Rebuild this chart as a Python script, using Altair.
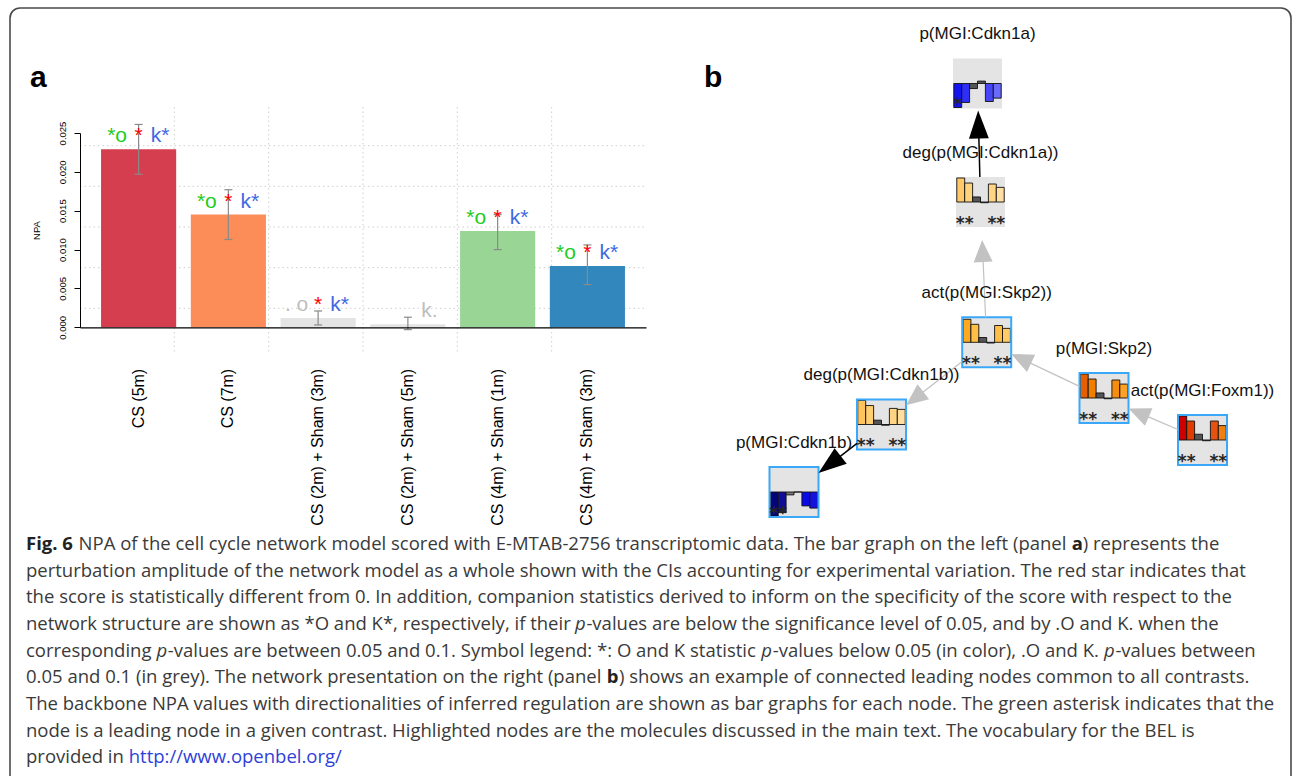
import altair as alt
import numpy as np
import pandas as pd

W, H = 1292, 776
SANS = "Liberation Sans"
CAPTION_FONT = "Open Sans"

# ---------------- panel a: network perturbation amplitude per contrast ----------------
contrasts = [
    "CS (5m)",
    "CS (7m)",
    "CS (2m) + Sham (3m)",
    "CS (2m) + Sham (5m)",
    "CS (4m) + Sham (1m)",
    "CS (4m) + Sham (3m)",
]
npa_values = [0.0229, 0.0145, 0.0012, 0.0004, 0.0124, 0.0079]
ci_lower = [0.0197, 0.0113, 0.0003, -0.0003, 0.0100, 0.0055]
ci_upper = [0.0261, 0.0177, 0.0021, 0.0013, 0.0145, 0.0106]
bar_fill = ["#D53E4F", "#FC8D59", "#E4E4E4", "#E4E4E4", "#99D594", "#3288BD"]
# "*" significant (p < 0.05), "." borderline (0.05 < p < 0.1), "" not shown
o_flags = ["*", "*", ".", "", "*", "*"]
score_flags = ["*", "*", "*", "", "*", "*"]
k_flags = ["*", "*", "*", ".", "*", "*"]

GREY_TXT = "#BEBEBE"


def o_label(f):
    return "*o" if f == "*" else (". o" if f == "." else "")


def k_label(f):
    return ("k" + f) if f else ""


bars = pd.DataFrame({
    "contrast": contrasts,
    "npa": npa_values,
    "lo": ci_lower,
    "hi": ci_upper,
    "fill": bar_fill,
    "o_text": [o_label(f) for f in o_flags],
    "o_col": ["#1ECC1E" if f == "*" else GREY_TXT for f in o_flags],
    "s_text": score_flags,
    "k_text": [k_label(f) for f in k_flags],
    "k_col": ["#4169E1" if f == "*" else GREY_TXT for f in k_flags],
})

x_band = alt.Scale(type="band", domain=contrasts, range=[80, 646],
                   paddingInner=0.163, paddingOuter=0.2345)
y_npa = alt.Scale(domain=[0, 0.025], range=[327.3, 133], nice=False, zero=False)

x_axis = alt.Axis(
    orient="bottom", offset=-448.7, ticks=False, tickSize=0, grid=False, zindex=1,
    labelAngle=270, labelAlign="right", labelBaseline="middle", labelPadding=41,
    labelFont=SANS, labelFontSize=16, labelColor="black", labelLimit=400,
    domainColor="black", domainWidth=1.2, title=None,
)
y_axis = alt.Axis(
    orient="left", offset=-80, values=[0, 0.005, 0.01, 0.015, 0.02, 0.025], format=".3f",
    grid=False, tickSize=6, tickColor="black", domainColor="black", zindex=1,
    labelAngle=270, labelAlign="center", labelBaseline="alphabetic", labelPadding=9,
    labelFont=SANS, labelFontSize=9.5, labelColor="black", labelOverlap=False, labelFlush=False,
    title="NPA", titleFont=SANS, titleFontSize=9.5, titleFontWeight="normal", titleColor="black",
    titleAngle=270, titleAlign="center", titleBaseline="alphabetic", titleX=-41, titleY=230,
)

bar_base = alt.Chart(bars)
xs = alt.X("contrast:N", sort=contrasts, scale=x_band, axis=None)


def ys(field):
    return alt.Y(field, scale=y_npa, axis=None)


bar_layer = bar_base.mark_bar(opacity=1).encode(
    x=alt.X("contrast:N", sort=contrasts, scale=x_band, axis=x_axis),
    y=alt.Y("npa:Q", scale=y_npa, axis=y_axis),
    y2=alt.datum(0),
    color=alt.Color("fill:N", scale=None),
)
err_line = bar_base.mark_rule(color="#8A8A8A", strokeWidth=1.2).encode(
    x=xs, y=ys("lo:Q"), y2="hi:Q"
)
err_low = bar_base.mark_tick(color="#8A8A8A", size=8, thickness=1.2, opacity=1).encode(
    x=xs, y=ys("lo:Q")
)
err_high = bar_base.mark_tick(color="#8A8A8A", size=8, thickness=1.2, opacity=1).encode(
    x=xs, y=ys("hi:Q")
)
flag_style = dict(font=SANS, fontSize=21, baseline="alphabetic", align="center", dy=-7)
o_text = bar_base.mark_text(dx=-21.5, **flag_style).encode(
    x=xs, y=ys("npa:Q"), text="o_text:N", color=alt.Color("o_col:N", scale=None),
)
s_text = bar_base.mark_text(dx=0, color="#FF0000", **flag_style).encode(
    x=xs, y=ys("npa:Q"), text="s_text:N",
)
k_text = bar_base.mark_text(dx=21.5, **flag_style).encode(
    x=xs, y=ys("npa:Q"), text="k_text:N", color=alt.Color("k_col:N", scale=None),
)
bar_layers = [bar_layer, err_line, err_low, err_high, o_text, s_text, k_text]

# ---------------- page-level drawing frame (pixel coordinates) ----------------
px = alt.Scale(domain=[0, W], range=[0, W], nice=False, zero=False)
py = alt.Scale(domain=[0, H], range=[0, H], nice=False, zero=False)


def X(f):
    return alt.X(f, scale=px, axis=None)


def Y(f):
    return alt.Y(f, scale=py, axis=None)


frame = pd.DataFrame({"x": [10], "x2": [1291], "y": [8], "y2": [800]})
frame_layer = alt.Chart(frame).mark_rect(
    fill="transparent", fillOpacity=0, stroke="#4A4A4A", strokeWidth=1.6, cornerRadius=10
).encode(x=X("x:Q"), x2="x2:Q", y=Y("y:Q"), y2="y2:Q")

# dotted background grid of panel a (6 x 6 cells)
GRID_X0, GRID_X1, GRID_Y0, GRID_Y1 = 80, 646, 105, 349
gx = np.linspace(GRID_X0, GRID_X1, 7)[1:-1]
gy = np.linspace(GRID_Y0, GRID_Y1, 7)[1:-1]
vgrid = pd.DataFrame({"x": gx, "y": GRID_Y0 + 2, "y2": GRID_Y1 + 3})
hgrid = pd.DataFrame({"y": gy, "x": GRID_X0, "x2": GRID_X1})
grid_style = dict(color="#CFCFCF", strokeWidth=1, strokeDash=[1.5, 3])
vgrid_layer = alt.Chart(vgrid).mark_rule(**grid_style).encode(x=X("x:Q"), y=Y("y:Q"), y2="y2:Q")
hgrid_layer = alt.Chart(hgrid).mark_rule(**grid_style).encode(y=Y("y:Q"), x=X("x:Q"), x2="x2:Q")

panel_letters = pd.DataFrame({"x": [30, 704], "y": [87, 87], "t": ["a", "b"]})
letters_layer = alt.Chart(panel_letters).mark_text(
    font=SANS, fontSize=30, fontWeight="bold", align="left", baseline="alphabetic", color="black"
).encode(x=X("x:Q"), y=Y("y:Q"), text="t:N")

back_layers = [frame_layer, vgrid_layer, hgrid_layer, letters_layer]

# ---------------- panel b: network of leading nodes ----------------
node_names = [
    "p(MGI:Cdkn1a)",
    "deg(p(MGI:Cdkn1a))",
    "act(p(MGI:Skp2))",
    "p(MGI:Skp2)",
    "act(p(MGI:Foxm1))",
    "deg(p(MGI:Cdkn1b))",
    "p(MGI:Cdkn1b)",
]
node_x = [977.5, 980.5, 986.7, 1104.0, 1202.5, 881.5, 794.0]
node_y = [83.5, 202.0, 342.3, 398.0, 440.0, 424.5, 492.0]
node_highlight = [False, False, True, True, True, True, True]

# backbone NPA per contrast at each node (relative, signed: up = increased)
node_npa = {
    "p(MGI:Cdkn1a)": [-1.00, -0.79, -0.21, 0.10, -0.75, -0.61],
    "deg(p(MGI:Cdkn1a))": [1.00, 0.79, 0.21, -0.03, 0.75, 0.61],
    "act(p(MGI:Skp2))": [0.96, 0.75, 0.20, -0.03, 0.70, 0.58],
    "p(MGI:Skp2)": [1.00, 0.79, 0.21, -0.03, 0.75, 0.58],
    "act(p(MGI:Foxm1))": [1.00, 0.79, 0.24, -0.03, 0.79, 0.60],
    "deg(p(MGI:Cdkn1b))": [1.00, 0.79, 0.18, -0.03, 0.67, 0.63],
    "p(MGI:Cdkn1b)": [-1.00, -0.86, -0.12, 0.00, -0.58, -0.67],
}
node_bar_colors = {
    "p(MGI:Cdkn1a)": ["#1414F0", "#2E2EF5", "#555555", "#555555", "#4646F5", "#6A6AFA"],
    "deg(p(MGI:Cdkn1a))": ["#FFC96A", "#FFD27E", "#555555", "#555555", "#FFD484", "#FFDFA3"],
    "act(p(MGI:Skp2))": ["#FFAA1E", "#FFBE46", "#555555", "#555555", "#FFBE48", "#FFCB66"],
    "p(MGI:Skp2)": ["#E35F00", "#F07F00", "#555555", "#555555", "#F58E10", "#FFA126"],
    "act(p(MGI:Foxm1))": ["#CC0000", "#E03C00", "#555555", "#555555", "#E65212", "#F07E10"],
    "deg(p(MGI:Cdkn1b))": ["#FFC45E", "#FFCF72", "#555555", "#555555", "#FFD482", "#FFDE9E"],
    "p(MGI:Cdkn1b)": ["#05057A", "#0E0E96", "#777777", "#777777", "#0A0AE6", "#1414DC"],
}
# leading-node marks: (bar slot, symbol)
node_stars = {
    "p(MGI:Cdkn1a)": [(0, "*")],
    "deg(p(MGI:Cdkn1a))": [(0.5, "**"), (4.5, "**")],
    "act(p(MGI:Skp2))": [(0.5, "**"), (4.5, "**")],
    "p(MGI:Skp2)": [(0.5, "**"), (4.5, "**")],
    "act(p(MGI:Foxm1))": [(0.5, "**"), (4.5, "**")],
    "deg(p(MGI:Cdkn1b))": [(0.5, "**"), (4.5, "**")],
    "p(MGI:Cdkn1b)": [(0.5, "**")],
}
edge_source = ["deg(p(MGI:Cdkn1a))", "act(p(MGI:Skp2))", "p(MGI:Skp2)",
               "act(p(MGI:Foxm1))", "act(p(MGI:Skp2))", "deg(p(MGI:Cdkn1b))"]
edge_target = ["p(MGI:Cdkn1a)", "deg(p(MGI:Cdkn1a))", "act(p(MGI:Skp2))",
               "p(MGI:Skp2)", "deg(p(MGI:Cdkn1b))", "p(MGI:Cdkn1b)"]
edge_kind = ["black", "grey", "grey", "grey", "grey", "black"]
edge_gap = [2, 13, 0, 0, 0, 0]

HALF_W, HALF_H = 24.5, 25.0
BAR_W = 7.9
BAR_PX = 24.0
LABEL_RISE = 49.5
STAR_DROP = 17.0

nodes = pd.DataFrame({"name": node_names, "cx": node_x, "cy": node_y, "hl": node_highlight})
nodes["x"] = nodes.cx - HALF_W
nodes["x2"] = nodes.cx + HALF_W
nodes["y"] = nodes.cy - HALF_H
nodes["y2"] = nodes.cy + HALF_H
nodes["ly"] = nodes.cy - LABEL_RISE

mini_rows, star_rows = [], []
for name, cx, cy in zip(node_names, node_x, node_y):
    left = cx - HALF_W + 0.8
    for i, (v, c) in enumerate(zip(node_npa[name], node_bar_colors[name])):
        mini_rows.append({"x": left + i * BAR_W, "x2": left + (i + 1) * BAR_W,
                          "y": cy - v * BAR_PX, "y2": cy, "c": c})
    for slot, sym in node_stars[name]:
        star_rows.append({"x": left + (slot + 0.5) * BAR_W, "y": cy + STAR_DROP, "t": sym})
mini = pd.DataFrame(mini_rows)
stars = pd.DataFrame(star_rows)

pos = {n: (x, y) for n, x, y in zip(node_names, node_x, node_y)}
ARROW = {"black": (28.0, 1.5, "#000000"), "grey": (22.0, 1.2, "#C2C2C2")}
edge_rows = []
for s, t, kind, gap in zip(edge_source, edge_target, edge_kind, edge_gap):
    (sx, sy), (tx, ty) = pos[s], pos[t]
    dx, dy = tx - sx, ty - sy
    n = np.hypot(dx, dy)
    ux, uy = dx / n, dy / n
    ex = min(HALF_W / abs(ux) if ux else np.inf, HALF_H / abs(uy) if uy else np.inf)
    length, width, col = ARROW[kind]
    tipx, tipy = tx - ux * (ex + gap), ty - uy * (ex + gap)
    edge_rows.append({
        "kind": kind,
        "x": sx + ux * ex, "y": sy + uy * ex,
        "x2": tipx - ux * (length - 3), "y2": tipy - uy * (length - 3),
        "ax": tipx - ux * length / 2, "ay": tipy - uy * length / 2,
        "ang": float(np.degrees(np.arctan2(ux, -uy)) % 360),
        "col": col, "w": width,
    })
edges = pd.DataFrame(edge_rows)

box_layer = alt.Chart(nodes).mark_rect(fill="#E4E4E4", opacity=1).encode(
    x=X("x:Q"), x2="x2:Q", y=Y("y:Q"), y2="y2:Q"
)
mini_layer = alt.Chart(mini).mark_rect(stroke="#111111", strokeWidth=0.9, opacity=1).encode(
    x=X("x:Q"), x2="x2:Q", y=Y("y:Q"), y2="y2:Q", fill=alt.Fill("c:N", scale=None)
)
hl_layer = alt.Chart(nodes).transform_filter("datum.hl").mark_rect(
    fill="transparent", fillOpacity=0, stroke="#3AA8F8", strokeWidth=2
).encode(x=X("x:Q"), x2="x2:Q", y=Y("y:Q"), y2="y2:Q")
star_layer = alt.Chart(stars).mark_text(
    font="DejaVu Sans", fontSize=17, fontWeight="bold", color="#262626", align="center",
    baseline="alphabetic", dy=9.5
).encode(x=X("x:Q"), y=Y("y:Q"), text="t:N")

edge_line_layer = alt.Chart(edges).mark_rule().encode(
    x=X("x:Q"), y=Y("y:Q"), x2="x2:Q", y2="y2:Q",
    color=alt.Color("col:N", scale=None), strokeWidth=alt.StrokeWidth("w:Q", scale=None),
)
arrow_black = alt.Chart(edges).transform_filter("datum.kind == 'black'").mark_point(
    shape="M0,-1L0.71,1L-0.71,1Z", filled=True, size=28.0 ** 2, color="#000000", opacity=1, strokeWidth=0
).encode(x=X("ax:Q"), y=Y("ay:Q"), angle=alt.Angle("ang:Q", scale=None))
arrow_grey = alt.Chart(edges).transform_filter("datum.kind == 'grey'").mark_point(
    shape="M0,-1L0.86,1L-0.86,1Z", filled=True, size=22.0 ** 2, color="#C2C2C2", opacity=1, strokeWidth=0
).encode(x=X("ax:Q"), y=Y("ay:Q"), angle=alt.Angle("ang:Q", scale=None))

label_layer = alt.Chart(nodes).mark_text(
    font=SANS, fontSize=17, color="#111111", align="center", baseline="middle"
).encode(x=X("cx:Q"), y=Y("ly:Q"), text="name:N")

network_layers = [box_layer, mini_layer, hl_layer, star_layer,
                  edge_line_layer, arrow_black, arrow_grey, label_layer]

# ---------------- caption ----------------
# approximate Open Sans advance widths (em) used to run styled pieces one after another
_EM = {" ": .260, "a": .556, "b": .613, "c": .476, "d": .613, "e": .561, "f": .339, "g": .548,
       "h": .614, "i": .253, "j": .253, "k": .525, "l": .253, "m": .930, "n": .614, "o": .604,
       "p": .613, "q": .613, "r": .408, "s": .477, "t": .353, "u": .614, "v": .501, "w": .778,
       "x": .524, "y": .502, "z": .477, "A": .633, "B": .648, "C": .631, "D": .729, "E": .556,
       "F": .516, "G": .728, "H": .738, "I": .279, "K": .614, "L": .519, "M": .903, "N": .754,
       "O": .779, "P": .602, "R": .618, "S": .549, "T": .553, "V": .595, "W": .926, ".": .266,
       ",": .244, ":": .266, "-": .322, "(": .296, ")": .296, "*": .552, "/": .367}
CAP_SIZE = 18.5


def run_width(text, style):
    w = sum(_EM.get(ch, .572) for ch in text) * CAP_SIZE
    return w * 1.07 if style == "bold" else w


caption_lines = [
    [("Fig. 6", "bold"), (" NPA of the cell cycle network model scored with E-MTAB-2756 transcriptomic data. The bar graph on the left (panel ", "normal"), ("a", "bold"), (") represents the", "normal")],
    [("perturbation amplitude of the network model as a whole shown with the CIs accounting for experimental variation. The red star indicates that", "normal")],
    [("the score is statistically different from 0. In addition, companion statistics derived to inform on the specificity of the score with respect to the", "normal")],
    [("network structure are shown as *O and K*, respectively, if their ", "normal"), ("p", "italic"), ("-values are below the significance level of 0.05, and by .O and K. when the", "normal")],
    [("corresponding ", "normal"), ("p", "italic"), ("-values are between 0.05 and 0.1. Symbol legend: *: O and K statistic ", "normal"), ("p", "italic"), ("-values below 0.05 (in color), .O and K. ", "normal"), ("p", "italic"), ("-values between", "normal")],
    [("0.05 and 0.1 (in grey). The network presentation on the right (panel ", "normal"), ("b", "bold"), (") shows an example of connected leading nodes common to all contrasts.", "normal")],
    [("The backbone NPA values with directionalities of inferred regulation are shown as bar graphs for each node. The green asterisk indicates that the", "normal")],
    [("node is a leading node in a given contrast. Highlighted nodes are the molecules discussed in the main text. The vocabulary for the BEL is", "normal")],
    [("provided in ", "normal"), ("http://www.openbel.org/", "link")],
]
CAP_TOP, CAP_STEP, CAP_LEFT = 550.0, 26.67, 26.0
cap_rows = []
for li, runs in enumerate(caption_lines):
    cursor = CAP_LEFT
    for text, style in runs:
        lead = len(text) - len(text.lstrip(" "))
        cursor += run_width(" " * lead, style)      # leading blanks are not drawn, so step over them
        body = text.lstrip(" ")
        cap_rows.append({"x": cursor, "y": CAP_TOP + li * CAP_STEP, "text": body, "style": style})
        cursor += run_width(body, style)
caption = pd.DataFrame(cap_rows)

cap_common = dict(font=CAPTION_FONT, fontSize=CAP_SIZE, align="left", baseline="alphabetic")
cap_styles = {
    "normal": dict(color="#3A3A3A"),
    "bold": dict(color="#222222", fontWeight="bold"),
    "italic": dict(color="#3A3A3A", fontStyle="italic"),
    "link": dict(color="#2F3FD8"),
}
caption_layers = [
    alt.Chart(caption).transform_filter(f"datum.style == '{style}'").mark_text(**cap_common, **opts).encode(
        x=X("x:Q"), y=Y("y:Q"), text="text:N"
    )
    for style, opts in cap_styles.items()
]

chart = (
    alt.layer(*back_layers, *bar_layers, *network_layers, *caption_layers)
    .resolve_scale(x="independent", y="independent")
    .properties(width=W, height=H, padding=0, background="white",
                autosize=alt.AutoSizeParams(type="none"))
    .configure_view(strokeWidth=0)
)

chart.save("out.html", embed_options={"renderer": "svg", "actions": False})
